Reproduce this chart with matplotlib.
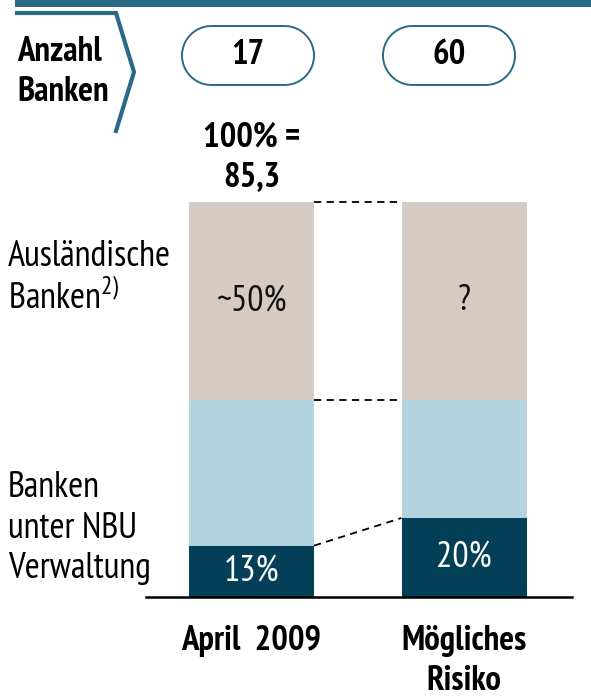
import matplotlib
matplotlib.use("Agg")
import numpy as np
from matplotlib import pyplot as plt
from matplotlib import font_manager
from matplotlib.patches import Polygon

# narrow font (the original looks like Arial Narrow), needs a bold face too
fonts = font_manager.fontManager.ttflist
family = "Liberation Sans"
for cand in ["Liberation Sans Narrow", "PT Sans Narrow", "Roboto Condensed",
             "Archivo Narrow", "Asap Condensed"]:
    weights = [f.weight for f in fonts if f.name == cand]
    if any(w in (700, "bold") for w in weights):
        family = cand
        break
plt.rcParams["font.family"] = [family, "DejaVu Sans"]
plt.rcParams["mathtext.fontset"] = "custom"
plt.rcParams["mathtext.rm"] = family

# data
categories = ["April  2009", "Mögliches\nRisiko"]
nbu_share = [13, 20]
other_share = [37, 30]
foreign_share = [50, 50]
nbu_labels = ["13%", "20%"]
foreign_labels = ["~50%", "?"]
bank_counts = ["17", "60"]
total_label = "100% =\n85,3"

teal = "#296a87"
navy = "#033f56"
lightblue = "#b3d3de"
beige = "#d5cbc2"
fs = 25      # bold texts
fs_reg = 26  # regular texts
ls = 1.33

W, H = 591, 698
fig = plt.figure(figsize=(W / 100, H / 100), dpi=100)

# overlay axes in pixel coordinates for the header and row labels
ov = fig.add_axes([0, 0, 1, 1])
ov.set_xlim(0, W)
ov.set_ylim(H, 0)
ov.axis("off")

# bar axes
left, right, bottom, top = 146, 572, 597, 202
ax = fig.add_axes([left / W, (H - bottom) / H, (right - left) / W, (bottom - top) / H])
ax.set_facecolor("none")

c1, c2 = 251.5, 464.0
step = c2 - c1
x = [0, 1]
width = 125 / step
ax.set_xlim((left - c1) / step, (right - c1) / step)
ax.set_ylim(0, 100)

ax.bar(x, nbu_share, width, color=navy)
ax.bar(x, other_share, width, bottom=nbu_share, color=lightblue)
top_bottom = [a + b for a, b in zip(nbu_share, other_share)]
ax.bar(x, foreign_share, width, bottom=top_bottom, color=beige)

# dashed connectors between the bars
levels = [nbu_share, top_bottom,
          [a + b for a, b in zip(top_bottom, foreign_share)]]
for lv in levels:
    ax.plot([x[0] + width / 2, x[1] - width / 2], [lv[0], lv[1]],
            ls=(0, (4, 3)), color="black", lw=1.3, clip_on=False)

for i in x:
    ax.text(i, nbu_share[i] / 2, nbu_labels[i], ha="center", va="center",
            color="white", fontsize=26)
    ax.text(i, top_bottom[i] + foreign_share[i] / 2, foreign_labels[i],
            ha="center", va="center", color="#111111", fontsize=26)

for s in ["top", "right", "left"]:
    ax.spines[s].set_visible(False)
ax.spines["bottom"].set_linewidth(1.8)
ax.set_xticks(x)
ax.set_xticklabels(categories, fontsize=fs, fontweight="bold", linespacing=ls)
ax.tick_params(axis="x", length=0, pad=20)
ax.set_yticks([])

ax.text(0, 111.3, total_label, ha="center", va="center", fontsize=fs,
        fontweight="bold", linespacing=ls)

# row labels on the left
ov.text(8, 278, "Ausländische\nBanken$^{2)}$", ha="left", va="center",
        fontsize=fs_reg, linespacing=1.2)
ov.text(8, 528, "Banken\nunter NBU\nVerwaltung", ha="left", va="center",
        fontsize=fs_reg, linespacing=1.28)

# header
ov.fill_between([15, W], 0, 7, color=teal, lw=0)
ov.plot([17, 116, 134, 116], [13, 13, 72, 131], color=teal, lw=3,
        solid_joinstyle="miter")
ov.text(17, 72, "Anzahl\nBanken", ha="left", va="center", fontsize=fs,
        fontweight="bold", linespacing=ls)

# pill shaped boxes with the bank counts
pill_x = [182, 383]
pw, ph, py = 132, 59, 26
r = ph / 2
t = np.linspace(-np.pi / 2, np.pi / 2, 40)
for px, lab in zip(pill_x, bank_counts):
    right_arc = np.column_stack([px + pw - r + r * np.cos(t), py + r + r * np.sin(t)])
    left_arc = np.column_stack([px + r - r * np.cos(t), py + r - r * np.sin(t)])
    ov.add_patch(Polygon(np.vstack([right_arc, left_arc]), closed=True,
                         fc="white", ec=teal, lw=1.4))
    ov.text(px + pw / 2, py + r, lab, ha="center", va="center", fontsize=fs,
            fontweight="bold")

fig.savefig("out.png", dpi=100)
